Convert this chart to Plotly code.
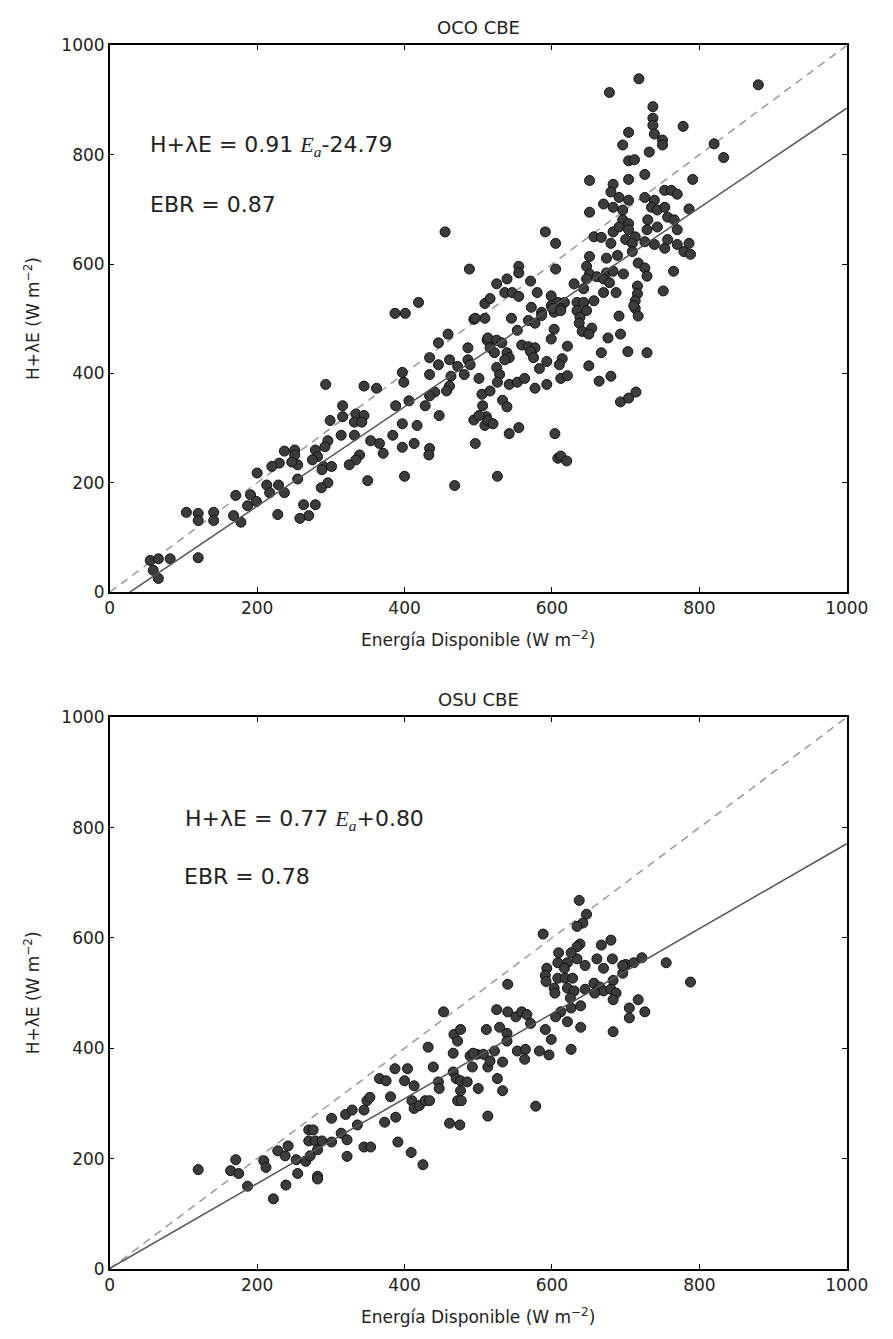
import plotly.graph_objects as go

W, H = 893, 1339

# ---------------- data: OCO CBE ----------------
oco_x = [455, 488, 419, 387, 401, 494, 509, 509,
         718, 678, 880, 737, 737, 737, 739, 750, 750, 778, 704, 696, 732, 820, 833, 704, 712, 726, 704, 651, 791, 683,
         680, 670, 691, 704, 683, 696, 726, 739, 753, 762, 770, 735, 743, 753, 786, 651, 696, 704, 757, 766, 730, 743,
         770, 729, 591, 605, 657, 667, 683, 691, 704, 713, 680, 700, 709, 726, 739, 753, 757, 770, 779, 788, 786, 709,
         689, 674, 651, 647, 651, 661, 674, 683, 697, 717, 726, 729, 765, 605, 555, 555, 539, 525, 571, 536, 546, 555,
         580, 516, 630, 643, 647, 670, 678, 670, 687, 716, 716, 713, 713, 717, 691, 751, 599, 608, 617, 599, 603, 612,
         586, 572, 634, 643, 634, 647, 657, 638, 545, 568, 496,
         459, 446, 486, 512, 434, 446, 461, 472, 486, 489, 397, 399, 434, 463, 481, 501, 505, 506, 511, 494, 509, 496,
         441, 434, 428, 461, 457, 406, 388, 447, 417, 397, 384, 413, 397, 434, 433, 400, 468, 293, 345, 362, 316, 316,
         299, 334, 345, 332, 342, 314, 332, 354, 366, 371, 339, 334, 325, 296, 292, 279, 282, 275, 290, 301, 288, 296,
         287, 350, 237, 251, 251, 255, 247, 230, 220, 200, 213, 229, 217, 237, 255, 191, 199, 171, 187, 168, 178, 228,
         263, 279, 270, 258, 104, 120, 120, 141, 141, 120, 55, 66, 82, 59, 66,
         601, 612, 711, 577, 586, 553, 603, 637, 641, 654, 650, 676, 693, 599, 513, 525, 532, 516, 522, 559, 568, 577,
         571, 575, 539, 542, 536, 621, 667, 703, 729, 614, 610, 593, 583, 650, 525, 529, 526, 542, 553, 563, 577, 593,
         612, 621, 664, 680, 693, 704, 714, 516, 533, 539, 501, 513, 520, 542, 555, 604, 608, 612, 620, 526]
oco_y = [659, 591, 530, 510, 510, 499, 528, 501,
         939, 914, 928, 888, 867, 854, 838, 827, 818, 852, 841, 818, 805, 820, 795, 789, 791, 764, 755, 753, 755, 746,
         732, 710, 722, 717, 704, 699, 722, 717, 735, 735, 728, 704, 699, 704, 701, 695, 681, 674, 686, 681, 681, 668,
         663, 663, 659, 638, 650, 649, 659, 668, 663, 650, 638, 645, 638, 641, 636, 629, 645, 636, 623, 618, 638, 623,
         616, 611, 614, 596, 582, 577, 584, 587, 582, 602, 593, 578, 587, 591, 596, 584, 573, 564, 569, 548, 548, 541,
         548, 537, 564, 555, 573, 573, 566, 548, 548, 560, 546, 533, 519, 505, 505, 551, 542, 530, 530, 524, 512, 519,
         512, 521, 530, 530, 515, 515, 533, 503, 501, 497, 501,
         472, 456, 447, 461, 429, 416, 425, 413, 425, 416, 402, 384, 398, 395, 398, 391, 362, 341, 321, 315, 305, 272,
         366, 359, 341, 377, 368, 350, 341, 323, 305, 308, 287, 272, 265, 263, 251, 212, 195, 380, 377, 373, 341, 321,
         314, 326, 323, 311, 311, 287, 287, 277, 272, 254, 251, 242, 233, 277, 266, 260, 248, 242, 230, 230, 224, 200,
         191, 204, 258, 260, 251, 233, 238, 236, 230, 218, 196, 196, 182, 182, 207, 178, 166, 177, 158, 140, 128, 142,
         160, 160, 140, 135, 146, 144, 131, 146, 131, 63, 58, 61, 61, 40, 25,
         519, 515, 524, 492, 506, 479, 481, 492, 477, 483, 472, 465, 472, 463, 465, 461, 456, 447, 438, 452, 449, 447,
         440, 429, 438, 429, 425, 450, 438, 440, 438, 427, 416, 422, 409, 414, 411, 398, 384, 380, 384, 391, 373, 380,
         391, 396, 386, 395, 348, 355, 366, 368, 351, 339, 323, 314, 308, 290, 301, 290, 245, 249, 240, 212]

# ---------------- data: OSU CBE ----------------
osu_x = [120, 171, 164, 175, 187, 222, 209, 212, 228, 242, 238, 239, 253, 255, 266, 272, 270, 276, 270, 279, 282, 288,
         282, 282, 301, 301, 314, 322, 322, 320, 329, 336, 345, 349, 353, 345, 354, 366, 375, 387, 404, 381, 373, 388,
         391, 409, 425, 400, 413, 410, 413, 420, 428, 434, 432, 439, 446, 447, 453, 461, 475, 466, 467, 476, 472, 466,
         470, 476, 485, 476, 472, 477, 489, 498, 507, 492, 500, 511, 513, 513,
         540, 593, 591, 592, 608, 621, 634, 645, 661, 670, 682, 608, 618, 628, 603, 604, 621, 630, 645, 657, 665, 670,
         658, 683, 680, 687, 683, 696, 700, 711, 722, 755, 788, 717, 705, 705, 726, 683, 625, 626, 639, 621, 639, 612,
         605, 525, 540, 551, 559, 566, 571, 529, 539, 539, 591, 599, 583, 596, 626, 553, 564, 563, 493, 522, 516, 533,
         526, 533, 578,
         637, 647, 642, 634, 588, 680, 667, 638, 634, 609, 626, 696, 617]
osu_y = [180, 198, 178, 173, 150, 127, 196, 184, 214, 223, 205, 152, 198, 173, 195, 205, 252, 252, 232, 232, 216, 232,
         168, 163, 273, 230, 246, 234, 204, 280, 288, 261, 288, 305, 311, 221, 221, 345, 341, 363, 363, 312, 266, 275,
         230, 211, 189, 341, 332, 305, 291, 296, 305, 305, 402, 366, 339, 327, 466, 264, 261, 391, 425, 434, 413, 357,
         345, 341, 339, 323, 305, 305, 386, 389, 389, 366, 327, 434, 366, 277,
         516, 545, 532, 521, 555, 555, 562, 550, 562, 545, 562, 527, 527, 527, 509, 500, 509, 504, 507, 518, 511, 504,
         500, 523, 507, 500, 488, 536, 552, 555, 564, 555, 520, 488, 473, 455, 466, 430, 491, 473, 477, 448, 438, 466,
         457, 470, 466, 457, 466, 461, 445, 438, 427, 413, 434, 416, 395, 388, 398, 395, 398, 380, 391, 395, 377, 375,
         345, 323, 295,
         668, 643, 627, 621, 607, 596, 587, 589, 584, 573, 573, 550, 545]

# regression parameters (from the annotations)
oco_slope, oco_icpt = 0.91, -24.79
osu_slope, osu_icpt = 0.77, 0.80
axis_max = 1000
ticks = [0, 200, 400, 600, 800, 1000]

# ---------------- layout geometry (pixels) ----------------
XL, XR = 108, 868
T1, B1 = 36, 591
T2, B2 = 718, 1278

FONT = "DejaVu Sans"
marker = dict(size=10, color="#3c3c3c", line=dict(color="#111111", width=1))

fig = go.Figure()


def add_panel(xs, ys, slope, icpt, xa, ya):
    x_start = max(0.0, -icpt / slope)
    fig.add_trace(go.Scatter(x=[0, axis_max], y=[0, axis_max], mode="lines",
                             line=dict(color="#999999", width=1.5, dash="8px,6px"),
                             xaxis=xa, yaxis=ya, showlegend=False, hoverinfo="skip"))
    fig.add_trace(go.Scatter(x=xs, y=ys, mode="markers", marker=marker,
                             xaxis=xa, yaxis=ya, showlegend=False))
    fig.add_trace(go.Scatter(x=[x_start, axis_max], y=[slope * x_start + icpt, slope * axis_max + icpt],
                             mode="lines", line=dict(color="#555555", width=1.5),
                             xaxis=xa, yaxis=ya, showlegend=False, hoverinfo="skip"))


add_panel(oco_x, oco_y, oco_slope, oco_icpt, "x", "y")
add_panel(osu_x, osu_y, osu_slope, osu_icpt, "x2", "y2")

axis_common = dict(range=[0, axis_max], tickvals=ticks, ticktext=[str(t) for t in ticks],
                   showgrid=False, zeroline=False, showline=True, linecolor="#000000", linewidth=1.5,
                   mirror="allticks", ticks="inside", ticklen=5, tickwidth=1, tickcolor="#000000",
                   tickfont=dict(family=FONT, size=17, color="#222222"))

def ydom(t, b):
    return [(H - b) / H, (H - t) / H]

fig.update_layout(
    width=W, height=H, margin=dict(l=0, r=0, t=0, b=0),
    paper_bgcolor="white", plot_bgcolor="white",
    xaxis=dict(domain=[XL / W, XR / W], anchor="y", **axis_common),
    yaxis=dict(domain=ydom(T1, B1), anchor="x", **axis_common),
    xaxis2=dict(domain=[XL / W, XR / W], anchor="y2", **axis_common),
    yaxis2=dict(domain=ydom(T2, B2), anchor="x2", **axis_common),
)

cx = (XL + XR) / 2 / W
ann = []
txt = dict(family=FONT, color="#222222")
EA = "<span style='font-family:Liberation Serif'><i>E</i><sub><i>a</i></sub></span>"
# titles
ann.append(dict(text="OCO CBE", x=cx, y=(H - 18) / H, xref="paper", yref="paper", showarrow=False,
                font=dict(size=18, **txt), xanchor="center", yanchor="middle"))
ann.append(dict(text="OSU CBE", x=cx, y=(H - 700) / H, xref="paper", yref="paper", showarrow=False,
                font=dict(size=18, **txt), xanchor="center", yanchor="middle"))
# axis titles
for (t, b) in [(T1, B1), (T2, B2)]:
    ann.append(dict(text="Energía Disponible (W m<sup>−2</sup>)", x=cx, y=(H - (b + 48)) / H,
                    xref="paper", yref="paper", showarrow=False, font=dict(size=17, **txt),
                    xanchor="center", yanchor="middle"))
    ann.append(dict(text="H+λE (W m<sup>−2</sup>)", x=28 / W, y=(H - (t + b) / 2) / H, textangle=-90,
                    xref="paper", yref="paper", showarrow=False, font=dict(size=17, **txt),
                    xanchor="center", yanchor="middle"))
# equations
ann.append(dict(text="H+λE = 0.91 " + EA + "-24.79", x=52, y=816, xref="x", yref="y",
                showarrow=False, xanchor="left", yanchor="middle", font=dict(size=22, **txt)))
ann.append(dict(text="EBR = 0.87", x=52, y=710, xref="x", yref="y",
                showarrow=False, xanchor="left", yanchor="middle", font=dict(size=22, **txt)))
ann.append(dict(text="H+λE = 0.77 " + EA + "+0.80", x=100, y=814, xref="x2", yref="y2",
                showarrow=False, xanchor="left", yanchor="middle", font=dict(size=22, **txt)))
ann.append(dict(text="EBR = 0.78", x=98, y=712, xref="x2", yref="y2",
                showarrow=False, xanchor="left", yanchor="middle", font=dict(size=22, **txt)))

fig.update_layout(annotations=ann)
fig.write_html("out.html")
